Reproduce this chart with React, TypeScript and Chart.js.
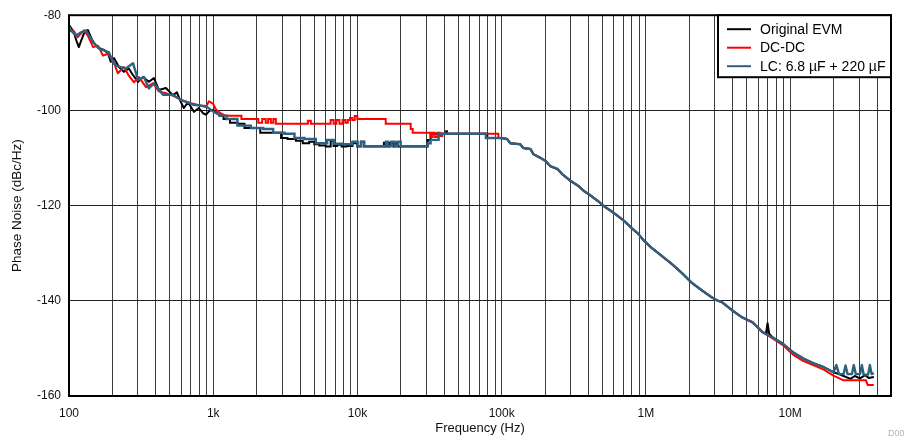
import { useEffect, useRef } from 'react';
import { Chart, registerables } from 'chart.js';

Chart.register(...registerables);

const FONT = "'Liberation Sans', Arial, Helvetica, sans-serif";

// ---- axes ----
const majorTicks = [100, 1e3, 1e4, 1e5, 1e6, 1e7];
const majorLabels = ['100', '1k', '10k', '100k', '1M', '10M'];
const gridMultipliers = [1, 2, 3, 4, 5, 6, 7, 8, 9];
const xMin = 100;
const xMax = 5e7;
const yMin = -160;
const yMax = -80;
const yStep = 20;

// ---- series labels / colours ----
const seriesNames = ['Original EVM', 'DC-DC', 'LC: 6.8 \u00b5F + 220 \u00b5F'];
const seriesColors = ['#000000', '#ff0000', '#2e6180'];

// ---- Original EVM ----
const blackLow: [number, number][] = [
  [100, -82.0], [104, -82.8], [108, -83.6], [113, -85.5], [117, -86.7], [122, -85.2], [127, -83.8],
  [135, -83.1], [147, -85.7], [161, -86.9], [175, -87.3], [186, -88.0], [195, -89.8], [205, -89.0],
  [222, -90.9], [240, -91.9], [260, -91.2], [278, -92.6], [301, -94.0], [326, -93.0], [358, -94.0],
  [388, -93.2], [420, -95.7], [470, -95.3], [525, -96.8], [560, -96.2], [596, -98.2], [625, -99.5],
  [668, -98.3], [735, -100.3], [796, -99.5], [850, -100.6], [889, -100.9], [950, -100.0], [996, -99.9],
  [1029, -100.2], [1097, -100.9],
];
const blackMid: [number, number][] = [
  [1097, -100.9], [1115, -101.1], [1247, -101.8], [1370, -102.6], [1582, -102.8], [1712, -103.7],
  [2037, -103.7], [2202, -104.7], [2886, -104.7], [3024, -105.8], [3541, -106.0], [3959, -106.4],
  [4400, -106.9], [4863, -106.6], [5185, -107.1], [5699, -107.4], [6369, -107.6], [6675, -106.4],
  [6996, -107.5], [7465, -107.2], [8075, -107.6], [8731, -107.5], [9750, -106.9], [10200, -107.6],
  [10900, -106.6], [11200, -107.6], [15000, -107.6], [15500, -106.8], [16000, -107.6], [17500, -106.8],
  [18000, -107.6], [18700, -106.8], [19300, -107.6], [30300, -107.6], [31000, -106.2], [33300, -104.9],
  [41000, -104.9], [41400, -104.4], [42000, -104.9], [78900, -104.9], [80000, -105.8],
];
const blackTail: [number, number][] = [
  [6800000, -146.8], [6970000, -144.7], [7150000, -146.9], [7560000, -147.7], [8890000, -149.0],
  [10450000, -150.8], [12280000, -152.1], [14430000, -153.1], [16970000, -153.9], [19950000, -155.0],
  [21800000, -155.4], [23450000, -155.8], [26200000, -156.4], [28000000, -155.8], [30500000, -156.3],
  [33000000, -155.6], [35000000, -156.2], [38000000, -156.0],
];

// ---- DC-DC ----
const redLow: [number, number][] = [
  [100, -83.4], [107, -83.2], [115, -84.6], [127, -83.2], [135, -84.3], [147, -86.7], [159, -86.4],
  [172, -88.5], [186, -88.1], [202, -89.5], [218, -92.2], [240, -90.9], [260, -92.7], [282, -94.1],
  [305, -93.0], [342, -95.1], [382, -94.3], [420, -96.0], [470, -96.4], [533, -97.0], [616, -97.9],
  [700, -98.5], [796, -98.9], [889, -99.3], [932, -98.1], [996, -98.6], [1045, -99.8], [1115, -100.5],
  [1207, -101.1],
];
const redMid: [number, number][] = [
  [1207, -101.1], [1531, -101.1], [1607, -101.8], [2005, -101.8], [2101, -102.6], [2273, -101.8],
  [2347, -102.6], [2461, -101.8], [2560, -102.6], [2664, -101.8], [2770, -102.8], [4426, -102.8],
  [4640, -102.2], [4863, -102.8], [6369, -102.8], [6675, -102.0], [6996, -102.8], [7300, -102.0],
  [7700, -102.8], [8075, -102.0], [8400, -102.6], [8731, -102.0], [9013, -101.6], [9400, -102.0],
  [9750, -101.2], [10200, -101.8], [15500, -101.8], [15900, -102.8], [23000, -102.8], [23800, -103.9],
  [24500, -104.7], [31700, -104.7], [32500, -105.6], [33500, -104.7], [35000, -105.6], [36500, -104.7],
  [38000, -105.4], [39500, -104.9], [92700, -104.9], [97000, -105.8],
];
const redTail: [number, number][] = [
  [7560000, -147.9], [8890000, -149.3], [10450000, -151.3], [12280000, -152.6], [14430000, -153.5],
  [16970000, -154.4], [19950000, -155.7], [23450000, -156.7], [33500000, -156.7], [34500000, -157.7],
  [38000000, -157.7],
];

// ---- LC: 6.8 uF + 220 uF ----
const blueLow: [number, number][] = [
  [100, -82.2], [103, -83.2], [112, -84.3], [121, -83.6], [131, -83.2], [142, -84.9], [154, -86.4],
  [161, -87.0], [175, -87.4], [189, -87.8], [202, -89.9], [212, -90.6], [229, -90.9], [248, -91.2],
  [278, -90.1], [301, -93.6], [331, -93.0], [358, -95.4], [388, -94.3], [448, -96.7], [525, -96.7],
  [596, -97.8], [724, -98.8], [889, -99.1], [996, -100.2], [1097, -100.9],
];
const blueMid: [number, number][] = [
  [1097, -100.9], [1115, -101.1], [1370, -101.8], [1582, -103.2], [2101, -103.7], [2347, -103.9],
  [2886, -104.7], [3379, -104.9], [3959, -105.8], [4640, -106.0], [5699, -106.9], [6675, -106.2],
  [7000, -107.0], [8731, -107.1], [9750, -106.6], [10300, -107.5], [10900, -106.6], [11400, -107.5],
  [15500, -107.5], [16000, -106.6], [16600, -107.5], [17800, -106.6], [18400, -107.5], [19600, -106.6],
  [20300, -107.5], [30300, -107.5], [31000, -106.9], [33300, -106.2], [40100, -104.9], [76400, -104.9],
  [78900, -105.8],
];
const blueTail: [number, number][] = [
  [7560000, -147.7], [8890000, -149.0], [10450000, -150.8], [12280000, -152.1], [14430000, -153.1],
  [16970000, -153.9], [19950000, -155.0], [20900000, -153.5], [21800000, -155.4], [23450000, -155.4],
  [24200000, -153.6], [25000000, -155.4], [26800000, -155.4], [27600000, -153.5], [28500000, -155.4],
  [30500000, -155.4], [31400000, -153.5], [32300000, -155.5], [34700000, -155.5], [35700000, -153.5],
  [36700000, -155.4], [38000000, -155.2],
];

// ---- common roll-off (all three traces overlap here) ----
const slopeShared: [number, number][] = [
  [100000, -105.8], [109000, -106.0], [114500, -106.9], [134500, -107.1], [141000, -107.9], [158000, -108.1],
  [166000, -109.2], [186000, -110.0], [201000, -110.6], [217000, -111.7], [243000, -112.3],
  [263000, -113.4], [300000, -114.8], [341000, -115.9], [370000, -116.9], [414000, -117.9],
  [463000, -119.0], [510000, -120.1], [571000, -121.1], [639000, -122.2], [704000, -123.2],
  [788000, -124.6], [882000, -125.9], [971000, -127.4], [1087000, -128.8], [1278000, -130.5],
  [1503000, -132.2], [1766000, -134.1], [2076000, -136.2], [2440000, -137.8], [2870000, -139.3],
  [3110000, -139.9], [3370000, -140.3], [3960000, -142.0], [4650000, -143.5], [5470000, -144.5],
  [6430000, -146.6],
];

const toXY = (arr: [number, number][]) => arr.map(([x, y]) => ({ x, y }));

const gridValues: number[] = [];
majorTicks.forEach((d) => gridMultipliers.forEach((m) => {
  const v = d * m;
  if (v <= xMax) gridValues.push(v);
}));

const labelFor = (v: number) => {
  const i = majorTicks.findIndex((t) => Math.abs(t - v) / t < 1e-6);
  return i >= 0 ? majorLabels[i] : '';
};

const overlayPlugin = {
  id: 'overlay',
  afterDatasetsDraw(chart: any) {
    const { ctx, chartArea } = chart;
    const { left, top, right, bottom } = chartArea;
    ctx.save();
    ctx.strokeStyle = '#000';
    ctx.lineWidth = 2;
    ctx.strokeRect(left, top, right - left, bottom - top);
    const bw = 173;
    const bh = 62;
    const bx = right - bw;
    const by = top;
    ctx.fillStyle = '#fff';
    ctx.fillRect(bx, by, bw, bh);
    ctx.strokeRect(bx, by, bw, bh);
    ctx.font = `14px ${FONT}`;
    ctx.textBaseline = 'middle';
    ctx.textAlign = 'left';
    seriesNames.forEach((name, i) => {
      const yy = by + 14 + i * 18.5;
      ctx.strokeStyle = seriesColors[i];
      ctx.lineWidth = 2;
      ctx.beginPath();
      ctx.moveTo(bx + 9, yy);
      ctx.lineTo(bx + 33, yy);
      ctx.stroke();
      ctx.fillStyle = '#000';
      ctx.fillText(name, bx + 42, yy + 0.5);
    });
    ctx.restore();
  },
  afterDraw(chart: any) {
    const { ctx } = chart;
    ctx.save();
    ctx.font = `9px ${FONT}`;
    ctx.fillStyle = '#b4b4b4';
    ctx.textBaseline = 'middle';
    ctx.textAlign = 'left';
    ctx.fillText('D001', 888, 434);
    ctx.restore();
  },
};

function makeDatasets() {
  const parts = [
    { low: blueLow, mid: blueMid, high: [...slopeShared, ...blueTail], color: seriesColors[2], w: 2.4 },
    { low: redLow, mid: redMid, high: [...slopeShared, ...redTail], color: seriesColors[1], w: 2 },
    { low: blackLow, mid: blackMid, high: [...slopeShared, ...blackTail], color: seriesColors[0], w: 2 },
  ];
  const ds: any[] = [];
  parts.forEach((p) => {
    const base = { borderColor: p.color, borderWidth: p.w, pointRadius: 0, fill: false };
    ds.push({ ...base, data: toXY(p.low), tension: 0, borderJoinStyle: 'round' });
    ds.push({ ...base, data: toXY([...p.mid, p.high[0]]), stepped: 'middle', borderJoinStyle: 'miter' });
    ds.push({ ...base, data: toXY(p.high), tension: 0, borderJoinStyle: 'round' });
  });
  return ds;
}

export default function App() {
  const ref = useRef<HTMLCanvasElement>(null);
  useEffect(() => {
    if (!ref.current) return;
    const chart = new Chart(ref.current, {
      type: 'line',
      data: { datasets: makeDatasets() },
      plugins: [overlayPlugin],
      options: {
        animation: false,
        responsive: true,
        maintainAspectRatio: false,
        layout: { padding: { top: 13, right: 13, bottom: 0, left: 0 } },
        plugins: { legend: { display: false }, tooltip: { enabled: false } },
        scales: {
          x: {
            type: 'logarithmic',
            min: xMin,
            max: xMax,
            afterFit: (s: any) => { s.height = 44; },
            afterBuildTicks: (s: any) => { s.ticks = gridValues.map((v) => ({ value: v })); },
            ticks: {
              autoSkip: false, maxRotation: 0, minRotation: 0, padding: 10,
              callback: (v: any) => labelFor(Number(v)),
              font: { family: FONT, size: 12 }, color: '#111',
            },
            grid: { color: '#3c3c3c', lineWidth: 1, drawTicks: false },
            border: { display: false },
            title: {
              display: true, text: 'Frequency (Hz)', color: '#111',
              font: { family: FONT, size: 13 }, padding: { top: 0, bottom: 4 },
            },
          },
          y: {
            min: yMin,
            max: yMax,
            afterFit: (s: any) => { s.width = 69; },
            ticks: {
              stepSize: yStep, padding: 8,
              font: { family: FONT, size: 12 }, color: '#111',
            },
            grid: { color: '#222', lineWidth: 1, drawTicks: false },
            border: { display: false },
            title: {
              display: true, text: 'Phase Noise (dBc/Hz)', color: '#111',
              font: { family: FONT, size: 13.5 }, padding: { top: 9, bottom: 0 },
            },
          },
        },
      } as any,
    });
    return () => chart.destroy();
  }, []);
  return (
    <div style={{ position: 'fixed', left: 0, top: 0, width: 904, height: 440, background: '#fff' }}>
      <canvas ref={ref} style={{ display: 'block' }} />
    </div>
  );
}
